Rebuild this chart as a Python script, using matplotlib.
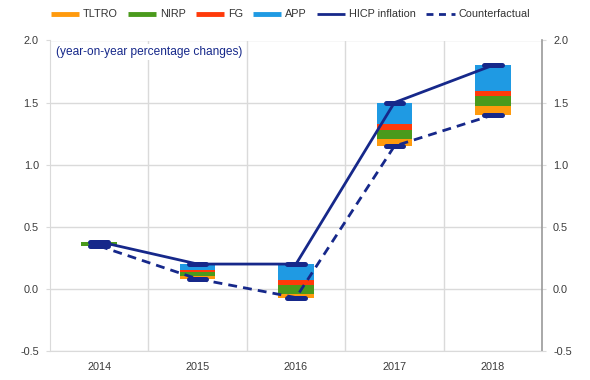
import matplotlib
matplotlib.use("Agg")
import matplotlib.pyplot as plt
from matplotlib.lines import Line2D
import numpy as np

plt.rcParams['font.family'] = ['Liberation Sans', 'DejaVu Sans']
plt.rcParams['axes.unicode_minus'] = False

years = ["2014", "2015", "2016", "2017", "2018"]
hicp = [0.38, 0.20, 0.20, 1.50, 1.80]
counterfactual = [0.345, 0.08, -0.07, 1.15, 1.40]
tltro = [0.00, 0.02, 0.03, 0.06, 0.07]
nirp = [0.035, 0.035, 0.07, 0.07, 0.08]
fg = [0.00, 0.015, 0.04, 0.05, 0.04]
app = [0.00, 0.05, 0.13, 0.17, 0.21]
yticks = [-0.5, 0.0, 0.5, 1.0, 1.5, 2.0]

C_TLTRO = "#ff9a0d"
C_NIRP = "#4a9a1c"
C_FG = "#ff3a0a"
C_APP = "#1f9ae3"
NAVY = "#16288a"
GRID = "#dadada"
TXT = "#3a3a3a"

fig = plt.figure(figsize=(5.9, 3.8), dpi=100)
ax = fig.add_axes([50/590, 1-351/380, 492/590, (351-40.5)/380])

x = np.arange(len(years))
w = 0.36
bottom = np.array(counterfactual, dtype=float)
for vals, col in [(tltro, C_TLTRO), (nirp, C_NIRP), (fg, C_FG), (app, C_APP)]:
    ax.bar(x, vals, w, bottom=bottom, color=col, zorder=3, linewidth=0)
    bottom = bottom + np.array(vals)

ax.plot(x, hicp, color=NAVY, lw=2, zorder=4, solid_capstyle='round')
ax.plot(x, counterfactual, color=NAVY, lw=2, ls=(0, (3.2, 2.2)), zorder=4)

for series in (counterfactual, hicp):
    lc = ax.hlines(series, x - 0.09, x + 0.09, color=NAVY, lw=3.6, zorder=5)
    lc.set_capstyle('round')

ax.set_xlim(-0.5, len(years) - 0.5)
ax.set_ylim(-0.5, 2.0)
ax.set_yticks(yticks)
ax.set_yticklabels([f"{v:.1f}" for v in yticks])
ax.set_xticks(x)
ax.set_xticklabels(years)
ax.set_xticks(x[:-1] + 0.5, minor=True)
ax.grid(axis='y', which='major', color=GRID, lw=1, zorder=0)
ax.grid(axis='x', which='minor', color=GRID, lw=1, zorder=0)
ax.tick_params(axis='x', which='both', length=0, pad=8, labelsize=7.8, colors=TXT)
ax.tick_params(axis='y', length=3, color=GRID, pad=5, labelsize=7.8, labelcolor=TXT,
               right=True, labelright=True)

ax.spines['top'].set_visible(False)
ax.spines['left'].set_color(GRID)
ax.spines['bottom'].set_color(GRID)
ax.spines['right'].set_color('#999999')
ax.spines['right'].set_linewidth(1.2)
ax.set_axisbelow(True)

ax.text(0.012, 0.962, "(year-on-year percentage changes)", transform=ax.transAxes,
        ha='left', va='center', fontsize=8.6, color=NAVY, zorder=6,
        bbox=dict(facecolor='white', edgecolor='none', pad=1.5))

handles = [
    Line2D([], [], color=C_TLTRO, lw=3.5, solid_capstyle='butt'),
    Line2D([], [], color=C_NIRP, lw=3.5, solid_capstyle='butt'),
    Line2D([], [], color=C_FG, lw=3.5, solid_capstyle='butt'),
    Line2D([], [], color=C_APP, lw=3.5, solid_capstyle='butt'),
    Line2D([], [], color=NAVY, lw=2, solid_capstyle='butt'),
    Line2D([], [], color=NAVY, lw=2, ls=(0, (2.5, 2))),
]
labels = ["TLTRO", "NIRP", "FG", "APP", "HICP inflation", "Counterfactual"]
fig.legend(handles, labels, loc='center', bbox_to_anchor=(0.492, 0.962), ncol=6,
           frameon=False, fontsize=7.8, handlelength=2.6, handletextpad=0.35,
           columnspacing=0.95, labelcolor='#333333')

fig.savefig("out.png", dpi=100)
